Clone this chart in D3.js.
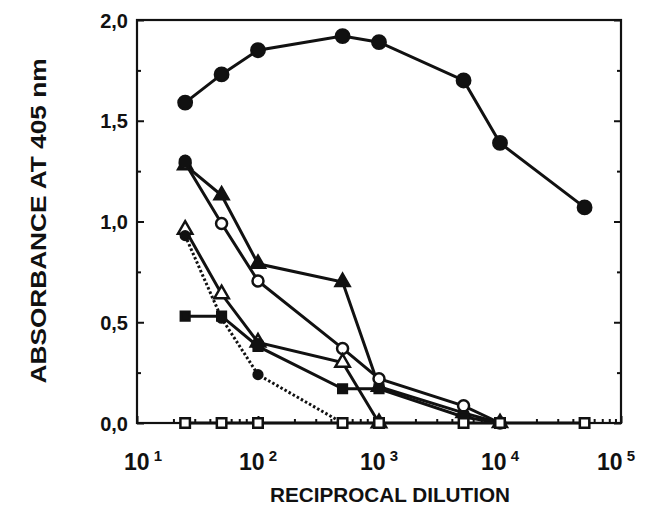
<!DOCTYPE html>
<html lang="en">
    <head>
        <meta charset="utf-8">
        <script src="https://d3js.org/d3.v7.min.js"></script>
        <title>Absorbance vs reciprocal dilution</title>
        <style>
            body { margin: 0; background: #fff; }
            text { font-family: "Liberation Sans", Arial, sans-serif; font-weight: bold; fill: #111; }
        </style>
    </head>
    <body>
        <div id="chart"></div>
        <script type="text/javascript">
            // reciprocal dilutions used for all curves
            var dilutions = [25, 50, 100, 500, 1000, 5000, 10000, 50000];

            // absorbance values, one array per curve
            var bigFilledCircle = [1.59, 1.73, 1.85, 1.92, 1.89, 1.70, 1.39, 1.07];
            var filledTriangle  = [1.28, 1.13, 0.79, 0.70, 0.18, 0.05, 0.0];
            var openCircle      = [1.29, 0.99, 0.705, 0.37, 0.22, 0.085, 0.0];
            var openTriangle    = [0.96, 0.64, 0.40, 0.30, 0.0];
            var filledSquare    = [0.53, 0.53, 0.38, 0.17, 0.17, 0.03, 0.0];
            var dottedCircle    = [0.93, 0.52, 0.24, 0.0];
            var openSquare      = [0, 0, 0, 0, 0, 0, 0, 0];
            // filled dots drawn on top where curves meet
            var extraDotX = [25, 100];
            var extraDotY = [1.30, 0.39];

            var yMajor = [0, 0.5, 1.0, 1.5, 2.0];
            var yMinor = [0.25, 0.75, 1.25, 1.75];
            var xMajor = [10, 100, 1000, 10000, 100000];
            var xExp = ["1", "2", "3", "4", "5"];

            var margin = {top: 20, right: 37, bottom: 91, left: 137},
                width = 658 - margin.left - margin.right,
                height = 514 - margin.top - margin.bottom;

            var svg = d3.select("#chart")
                .append("svg")
                    .attr("width", 658)
                    .attr("height", 514)
                .append("g")
                    .attr("transform", "translate(" + margin.left + "," + margin.top + ")");

            var x = d3.scaleLog().domain([10, 100000]).range([0, width]);
            var y = d3.scaleLinear().domain([0, 2]).range([height, 0]);

            var comma = d3.formatLocale({decimal: ",", thousands: ".", grouping: [3], currency: ["", ""]}).format(".1f");

            function styleAxis(g) {
                g.selectAll("path, line").attr("stroke", "#111").attr("stroke-width", 2);
                g.select(".domain").remove();
            }

            // frame
            svg.append("rect")
                .attr("width", width)
                .attr("height", height)
                .attr("fill", "none")
                .attr("stroke", "#111")
                .attr("stroke-width", 2.2);

            // left axis
            svg.append("g")
                .call(d3.axisLeft(y).tickValues(yMajor).tickSize(-7).tickPadding(9).tickFormat(comma))
                .call(styleAxis)
                .call(function(g) {
                    g.selectAll("text").style("font-size", "20px").attr("font-family", null).attr("dy", "0.36em");
                });
            svg.append("g")
                .call(d3.axisLeft(y).tickValues(yMinor).tickSize(-4).tickFormat(""))
                .call(styleAxis);

            // right axis
            svg.append("g")
                .attr("transform", "translate(" + width + ",0)")
                .call(d3.axisRight(y).tickValues(yMajor).tickSize(-7).tickFormat(""))
                .call(styleAxis);
            svg.append("g")
                .attr("transform", "translate(" + width + ",0)")
                .call(d3.axisRight(y).tickValues(yMinor).tickSize(-4).tickFormat(""))
                .call(styleAxis);

            // bottom axis, decades and minor log ticks
            var xMinor = x.ticks().filter(function(d) { return xMajor.indexOf(d) < 0; });
            svg.append("g")
                .attr("transform", "translate(0," + height + ")")
                .call(d3.axisBottom(x).tickValues(xMajor).tickSize(-7).tickFormat(""))
                .call(styleAxis);
            svg.append("g")
                .attr("transform", "translate(0," + height + ")")
                .call(d3.axisBottom(x).tickValues(xMinor).tickSize(-4).tickFormat(""))
                .call(styleAxis);

            // decade labels 10^n
            var xl = svg.append("g").selectAll("text")
                .data(xMajor)
                .enter()
                .append("text")
                    .attr("x", function(d) { return Math.min(Math.max(x(d), 6), width - 5); })
                    .attr("y", height + 47)
                    .attr("text-anchor", "middle")
                    .style("font-size", "23px");
            xl.append("tspan").text("10");
            xl.append("tspan")
                .attr("dy", "-0.6em")
                .attr("dx", "4")
                .style("font-size", "15px")
                .text(function(d, i) { return xExp[i]; });

            // curves
            var line = d3.line()
                .x(function(d) { return x(d[0]); })
                .y(function(d) { return y(d[1]); });

            var curves = [
                {values: bigFilledCircle, symbol: d3.symbolCircle, size: 140, fill: "#111", dash: null},
                {values: filledTriangle, symbol: d3.symbolTriangle, size: 85, fill: "#111", dash: null},
                {values: openCircle, symbol: d3.symbolCircle, size: 95, fill: "#fff", dash: null},
                {values: openTriangle, symbol: d3.symbolTriangle, size: 90, fill: "#fff", dash: null},
                {values: filledSquare, symbol: d3.symbolSquare, size: 75, fill: "#111", dash: null},
                {values: dottedCircle, symbol: d3.symbolCircle, size: 60, fill: "#111", dash: "2.5,2.2"},
                {values: openSquare, symbol: d3.symbolSquare, size: 90, fill: "#fff", dash: null}
            ];

            curves.forEach(function(c) {
                var pts = c.values.map(function(v, i) { return [dilutions[i], v]; });
                svg.append("path")
                    .datum(pts)
                    .attr("d", line)
                    .attr("fill", "none")
                    .attr("stroke", "#111")
                    .attr("stroke-width", 3)
                    .attr("stroke-dasharray", c.dash);
                c.pts = pts;
            });

            curves.forEach(function(c) {
                svg.append("g").selectAll("path")
                    .data(c.pts)
                    .enter()
                    .append("path")
                        .attr("transform", function(d) { return "translate(" + x(d[0]) + "," + y(d[1]) + ")"; })
                        .attr("d", d3.symbol().type(c.symbol).size(c.size))
                        .attr("fill", c.fill)
                        .attr("stroke", "#111")
                        .attr("stroke-width", 2.5);
            });

            svg.append("g").selectAll("circle")
                .data(extraDotX)
                .enter()
                .append("circle")
                    .attr("cx", function(d) { return x(d); })
                    .attr("cy", function(d, i) { return y(extraDotY[i]); })
                    .attr("r", 6.5)
                    .attr("fill", "#111");

            // axis titles
            svg.append("text")
                .attr("text-anchor", "middle")
                .attr("x", 390 - margin.left)
                .attr("y", height + 79)
                .attr("textLength", 240)
                .attr("lengthAdjust", "spacingAndGlyphs")
                .style("font-size", "21px")
                .text("RECIPROCAL DILUTION");

            svg.append("text")
                .attr("text-anchor", "middle")
                .attr("transform", "rotate(-90)")
                .attr("x", -201)
                .attr("y", -margin.left + 46)
                .attr("textLength", 325)
                .attr("lengthAdjust", "spacingAndGlyphs")
                .style("font-size", "22px")
                .text("ABSORBANCE AT 405 nm");
        </script>
    </body>
</html>
